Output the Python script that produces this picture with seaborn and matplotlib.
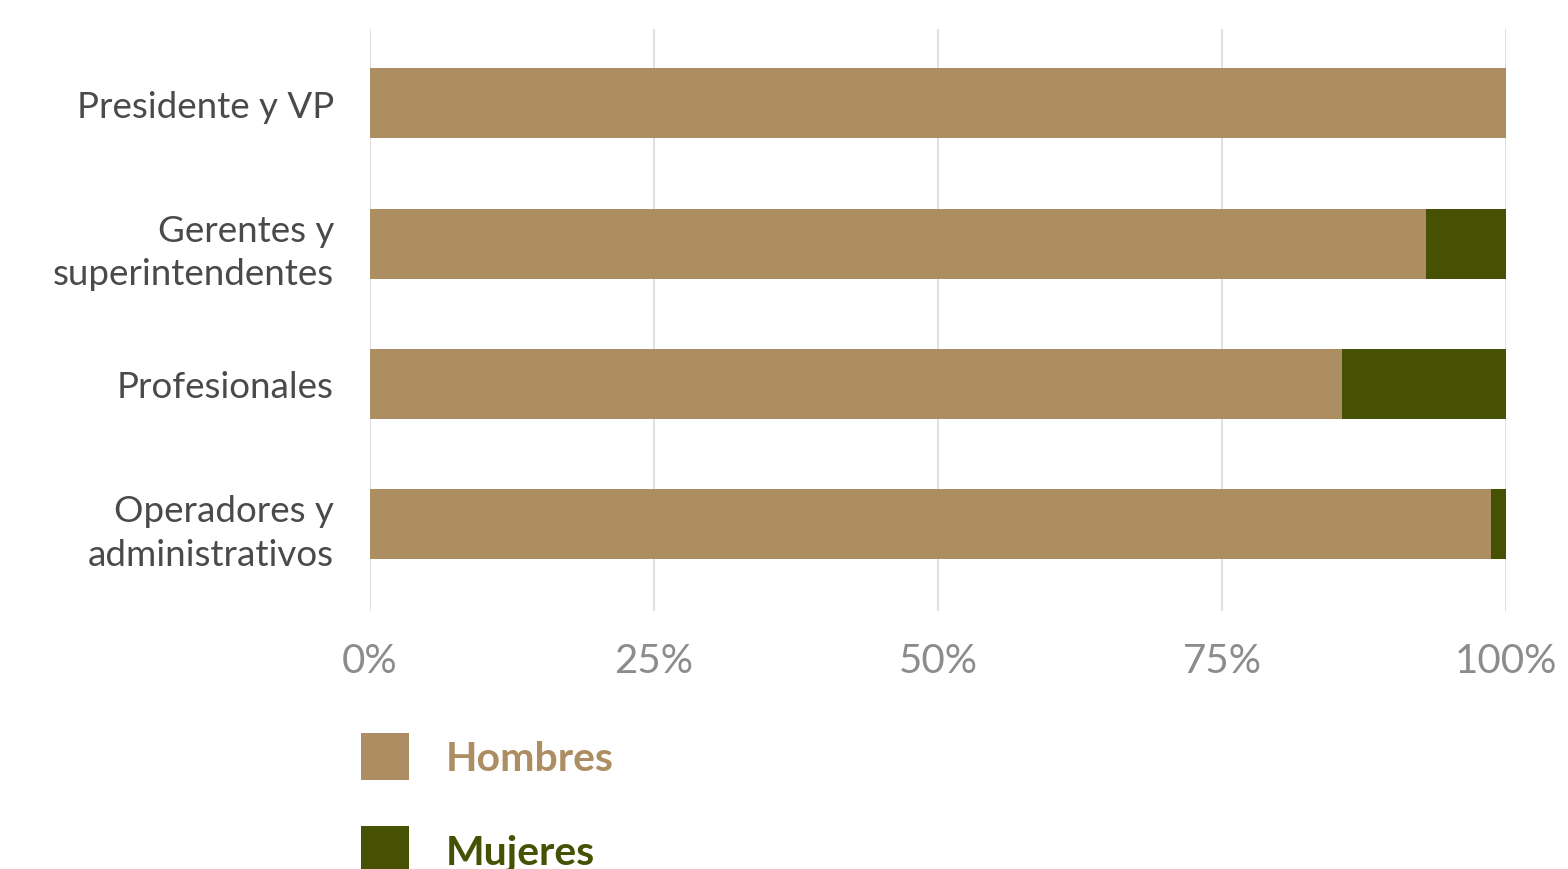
import pandas as pd
import seaborn as sns
import matplotlib.pyplot as plt
from matplotlib.patches import Patch

categories = ["Presidente y VP", "Gerentes y\nsuperintendentes", "Profesionales",
              "Operadores y\nadministrativos"]
hombres = [100.0, 93.0, 85.6, 98.7]
mujeres = [0.0, 7.0, 14.4, 1.3]
ticks = [0, 25, 50, 75, 100]
tick_labels = ["0%", "25%", "50%", "75%", "100%"]

color_h = "#ad8e62"
color_m = "#465104"

df = pd.DataFrame({"categoria": categories, "Hombres": hombres, "Mujeres": mujeres})
df["total"] = df["Hombres"] + df["Mujeres"]

sns.set_style("white")
plt.rcParams["font.family"] = ["Lato", "DejaVu Sans"]

fig = plt.figure(figsize=(15.68, 8.70), dpi=100)
ax = fig.add_axes([370 / 1568, 1 - 612 / 870, 1136 / 1568, 582 / 870])

# stacked: total first (Mujeres colour), then Hombres on top
sns.barplot(data=df, y="categoria", x="total", color=color_m, width=0.5,
            saturation=1, linewidth=0, ax=ax, orient="h")
sns.barplot(data=df, y="categoria", x="Hombres", color=color_h, width=0.5,
            saturation=1, linewidth=0, ax=ax, orient="h")

ax.set_xlim(0, 100)
ax.set_ylim(3.62, -0.53)
ax.set_xticks(ticks)
ax.set_xticklabels(tick_labels)
ax.set_xlabel("")
ax.set_ylabel("")
ax.grid(axis="x", color="#d9d9d9", linewidth=1.2)
ax.set_axisbelow(True)
for s in ax.spines.values():
    s.set_visible(False)
ax.tick_params(axis="x", length=0, pad=22, labelsize=29, labelcolor="#8c8c8c")
ax.tick_params(axis="y", length=0, pad=26, labelsize=26.5, labelcolor="#4a4a4a")
for lbl in ax.get_yticklabels():
    lbl.set_linespacing(1.4)

handles = [Patch(facecolor=color_h, edgecolor="none"),
           Patch(facecolor=color_m, edgecolor="none")]
fig.legend(handles, ["Hombres", "Mujeres"], loc="upper left",
           bbox_to_anchor=(361 / 1568, 1 - 734 / 870), frameon=False,
           borderpad=0, borderaxespad=0, handlelength=1.17, handleheight=1.4,
           handletextpad=0.9, labelspacing=1.12,
           prop={"size": 29.5, "weight": "bold"}, labelcolor=[color_h, color_m])

fig.savefig("out.png", dpi=100)
